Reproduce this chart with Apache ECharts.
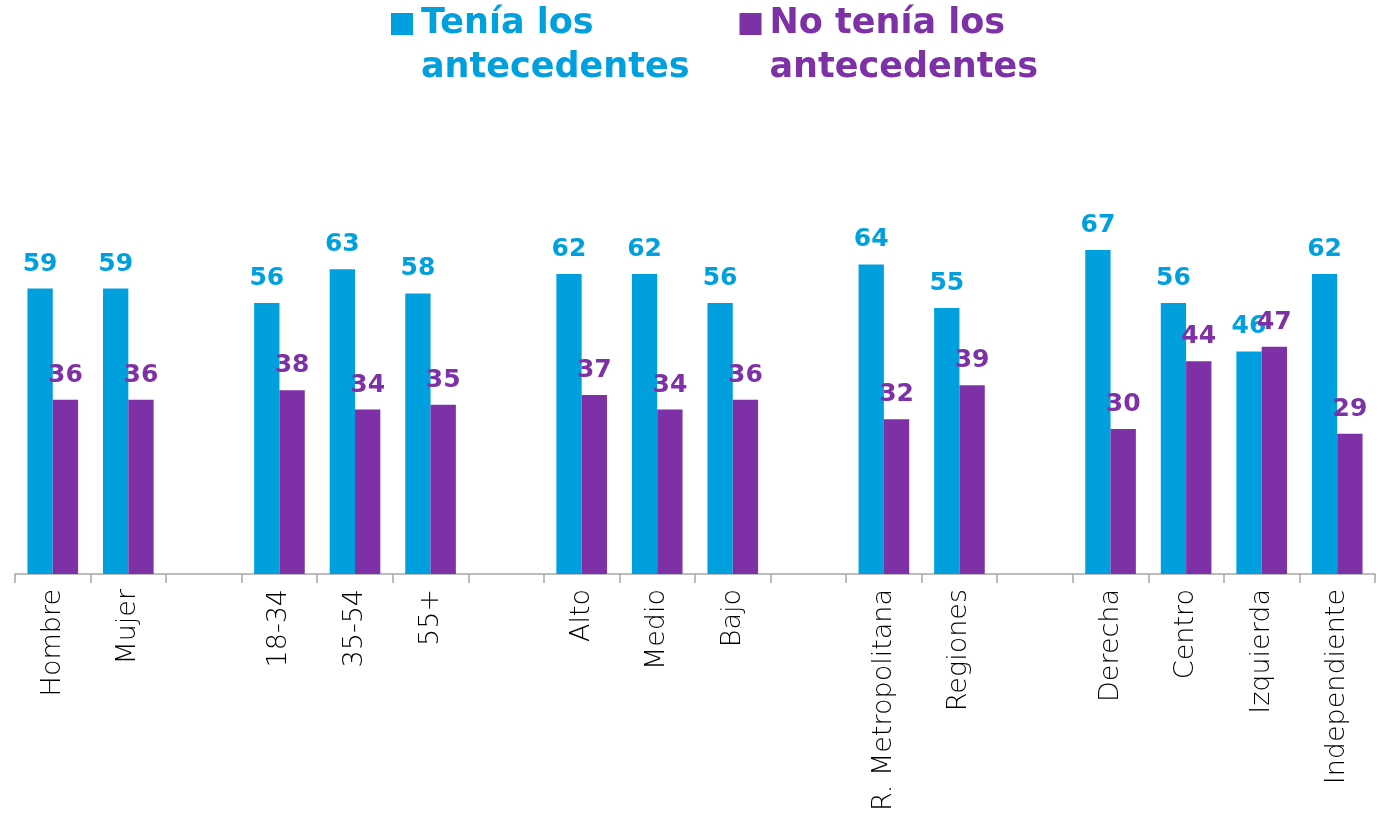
<!DOCTYPE html>
<html>
<head>
<meta charset="utf-8">
<script src="https://cdn.jsdelivr.net/npm/echarts@6/dist/echarts.min.js"></script>
<style>
  html, body { margin: 0; padding: 0; background: #fff; }
  #chart { width: 1390px; height: 814px; }
</style>
</head>
<body>
<div id="chart"></div>
<script>
const categories = ['Hombre', 'Mujer', '', '18-34', '35-54', '55+', '', 'Alto', 'Medio', 'Bajo', '',
    'R. Metropolitana', 'Regiones', '', 'Derecha', 'Centro', 'Izquierda', 'Independiente'];
const teniaValues = [59, 59, null, 56, 63, 58, null, 62, 62, 56, null, 64, 55, null, 67, 56, 46, 62];
const noTeniaValues = [36, 36, null, 38, 34, 35, null, 37, 34, 36, null, 32, 39, null, 30, 44, 47, 29];
const seriesNames = ['Tenía los\nantecedentes', 'No tenía los\nantecedentes'];

const BLUE = '#00A0DF';
const PURPLE = '#7E30A6';
const FONT = 'DejaVu Sans';

// square on the first text line: the box is 3 squares tall, only the top one is filled
const legendIcon = 'path://M0,0H1V1H0Z M0,3H1V3H0Z';

const chart = echarts.init(document.getElementById('chart'));

const labelStyle = (color) => ({
    show: true,
    position: 'top',
    distance: 12,
    color,
    fontFamily: FONT,
    fontWeight: 'bold',
    fontSize: 25
});

chart.setOption({
    animation: false,
    textStyle: { fontFamily: FONT },
    legend: {
        top: -3,
        left: 386,
        itemWidth: 22,
        itemHeight: 66,
        itemGap: 50,
        icon: legendIcon,
        data: [
            { name: seriesNames[0], textStyle: { color: BLUE } },
            { name: seriesNames[1], textStyle: { color: PURPLE } }
        ],
        textStyle: {
            fontFamily: FONT,
            fontWeight: 'bold',
            fontSize: 35,
            lineHeight: 44,
            padding: [0, 0, 0, 3]
        }
    },
    grid: { left: 15, right: 15, top: 187, bottom: 240 },
    xAxis: {
        type: 'category',
        data: categories,
        axisLine: { lineStyle: { color: '#A6A6A6', width: 1.5 } },
        axisTick: { show: true, length: 9, lineStyle: { color: '#A6A6A6', width: 1.5 } },
        axisLabel: {
            rotate: 90,
            interval: 0,
            margin: 15,
            color: '#000',
            fontFamily: FONT,
            fontWeight: 200,
            fontSize: 27
        }
    },
    yAxis: {
        type: 'value',
        min: 0,
        max: 80,
        show: false,
        splitLine: { show: false }
    },
    series: [
        {
            name: seriesNames[0],
            type: 'bar',
            data: teniaValues,
            barGap: '0%',
            barCategoryGap: '33%',
            itemStyle: { color: BLUE },
            label: labelStyle(BLUE)
        },
        {
            name: seriesNames[1],
            type: 'bar',
            data: noTeniaValues,
            itemStyle: { color: PURPLE },
            label: labelStyle(PURPLE)
        }
    ]
});
</script>
</body>
</html>
